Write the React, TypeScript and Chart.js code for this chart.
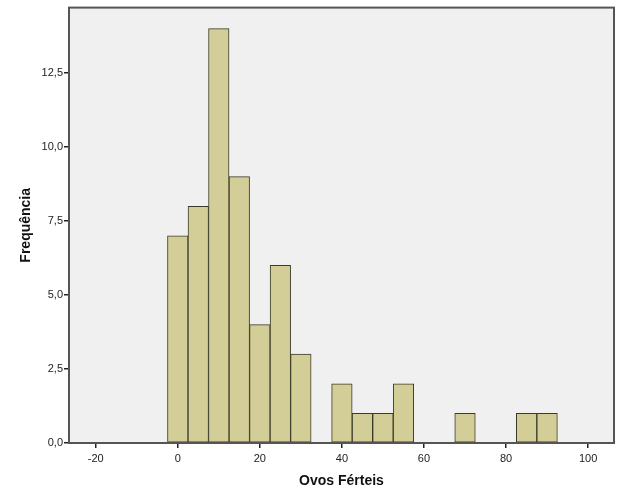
import React, { useEffect, useRef } from "react";
import { Chart, registerables } from "chart.js";

Chart.register(...registerables);

const binCenters = [0, 5, 10, 15, 20, 25, 30, 40, 45, 50, 55, 70, 85, 90];
const frequencies = [7, 8, 14, 9, 4, 6, 3, 2, 1, 1, 2, 1, 1, 1];
const xTitle = "Ovos Férteis";
const yTitle = "Frequência";

const frame = {
  id: "frame",
  beforeDraw(chart: any) {
    const { ctx, chartArea: a } = chart;
    ctx.save();
    ctx.fillStyle = "#F0F0F0";
    ctx.fillRect(a.left, a.top, a.right - a.left, a.bottom - a.top);
    ctx.restore();
  },
  afterDraw(chart: any) {
    const { ctx, chartArea: a } = chart;
    ctx.save();
    ctx.strokeStyle = "#555555";
    ctx.lineWidth = 2;
    ctx.strokeRect(a.left, a.top, a.right - a.left, a.bottom - a.top);
    ctx.restore();
  },
};

export default function App() {
  const ref = useRef<HTMLCanvasElement>(null);
  useEffect(() => {
    if (!ref.current) return;
    const chart = new Chart(ref.current, {
      type: "bar",
      data: {
        datasets: [
          {
            data: binCenters.map((x, i) => ({ x, y: frequencies[i] })),
            backgroundColor: "#D3CE97",
            borderColor: "#3A3A28",
            borderWidth: 1,
            borderSkipped: false,
            barPercentage: 1,
            categoryPercentage: 1,
          },
        ],
      },
      options: {
        animation: false,
        responsive: true,
        maintainAspectRatio: false,
        layout: { padding: { top: 7, right: 15, left: 0, bottom: 0 } },
        plugins: { legend: { display: false }, tooltip: { enabled: false } },
        scales: {
          x: {
            type: "linear",
            min: -26.5,
            max: 106.3,
            offset: false,
            grid: {
              offset: false,
              drawOnChartArea: false,
              drawTicks: true,
              tickLength: 5,
              color: "#222",
              lineWidth: 1.5,
            },
            border: { display: false },
            ticks: {
              stepSize: 20,
              includeBounds: false,
              color: "#222",
              font: { family: "Liberation Sans, Arial", size: 11 },
              padding: 4,
              maxRotation: 0,
            },
            title: {
              display: true,
              text: xTitle,
              color: "#111",
              font: { family: "Liberation Sans, Arial", size: 14, weight: "bold" },
              padding: { top: 4, bottom: 14 },
            },
            afterFit(scale: any) {
              scale.height = 61;
            },
          },
          y: {
            min: 0,
            max: 14.71,
            grid: {
              offset: false,
              drawOnChartArea: false,
              drawTicks: true,
              tickLength: 5,
              color: "#222",
              lineWidth: 1.5,
            },
            border: { display: false },
            ticks: {
              stepSize: 2.5,
              includeBounds: false,
              color: "#222",
              font: { family: "Liberation Sans, Arial", size: 11 },
              padding: 1,
              callback: (v: any) => Number(v).toFixed(1).replace(".", ","),
            },
            title: {
              display: true,
              text: yTitle,
              color: "#111",
              font: { family: "Liberation Sans, Arial", size: 14, weight: "bold" },
              padding: { top: 18, bottom: 0 },
            },
            afterFit(scale: any) {
              scale.width = 69;
            },
          },
        },
      },
      plugins: [frame],
    });
    return () => chart.destroy();
  }, []);
  return (
    <div style={{ position: "fixed", left: 0, top: 0, width: 629, height: 504, background: "#fff" }}>
      <canvas ref={ref} />
    </div>
  );
}
